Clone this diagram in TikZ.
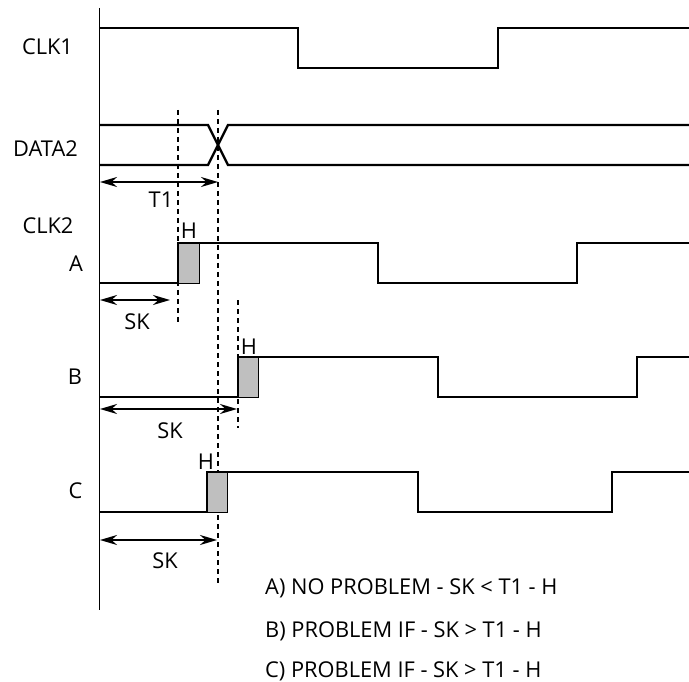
\documentclass[tikz,border=0pt]{standalone}
\usepackage{fontspec}
\setmainfont{Open Sans}
\usepackage{tikz}
\usetikzlibrary{arrows.meta, positioning, calc}

\begin{document}
\begin{tikzpicture}[
    x=1pt, y=-1pt,
    sig/.style={line width=2.4pt},
    guide/.style={dashed, line width=1.8pt, dash pattern=on 5pt off 4pt},
    hold/.style={draw, line width=0.7pt, fill=black!25},
    lbl/.style={font=\fontsize{21.8}{24}\selectfont, inner sep=0pt},
    note/.style={font=\fontsize{21.8}{24}\selectfont, inner sep=0pt, anchor=west},
    dim/.style={{Stealth[length=17pt,width=10pt]}-{Stealth[length=17pt,width=10pt]}, line width=2pt}
]
    \useasboundingbox (0,0) rectangle (689,682);

    % time axis
    \draw[line width=0.9pt] (99,8) -- (99,610);

    % labels
    \node[lbl] (clk1) at (47.5,47) {CLK1};
    \node[lbl] (data2) at (45.5,149) {DATA2};
    \node[lbl] (clk2) at (48,226) {CLK2};
    \node[lbl] (a) at (76,264) {A};
    \node[lbl] (b) at (75,377) {B};
    \node[lbl] (c) at (75.5,491) {C};

    % CLK1
    \draw[sig] (99,28) -- (298,28) -- (298,68) -- (498,68) -- (498,28) -- (689,28);

    % DATA2
    \draw[sig] (99,125) -- (208,125) -- (228,165) -- (689,165);
    \draw[sig] (99,165) -- (208,165) -- (228,125) -- (689,125);

    % guides
    \coordinate (g1top) at (178,110);
    \coordinate (g1bot) at (178,322);
    \coordinate (g2top) at (218,110);
    \coordinate (g2bot) at (218,586);
    \coordinate (g3top) at (238,300);
    \coordinate (g3bot) at (238,428);
    \draw[guide] (g1top) -- (g1bot);
    \draw[guide] (g2top) -- (g2bot);
    \draw[guide] (g3top) -- (g3bot);

    % T1
    \coordinate (t1s) at (100,182);
    \coordinate (t1e) at (218,182);
    \draw[dim] (t1s) -- (t1e);
    \node[lbl] (t1) at (161,200) {T1};

    % A
    \draw[hold] (178,243) rectangle (199,283);
    \draw[sig] (99,283) -- (178,283) -- (178,243) -- (378,243) -- (378,283) -- (577,283) -- (577,243) -- (689,243);
    \node[lbl] (ha) at (189,231) {H};
    \coordinate (ska) at (100,300);
    \coordinate (skae) at (170,300);
    \draw[dim] (ska) -- (skae);
    \node[lbl] (ska lbl) at (137,322) {SK};

    % B
    \draw[hold] (238,357) rectangle (258,397);
    \draw[sig] (99,397) -- (238,397) -- (238,357) -- (438,357) -- (438,397) -- (637,397) -- (637,357) -- (689,357);
    \node[lbl] (hb) at (249,347) {H};
    \coordinate (skb) at (100,409);
    \coordinate (skbe) at (237,409);
    \draw[dim] (skb) -- (skbe);
    \node[lbl] (skb lbl) at (170,431) {SK};

    % C
    \draw[hold] (207,472) rectangle (227,512);
    \draw[sig] (99,512) -- (207,512) -- (207,472) -- (418,472) -- (418,512) -- (612,512) -- (612,472) -- (689,472);
    \node[lbl] (hc) at (206,462) {H};
    \coordinate (skc) at (100,540);
    \coordinate (skce) at (217,540);
    \draw[dim] (skc) -- (skce);
    \node[lbl] (skc lbl) at (165,561) {SK};

    % notes
    \node[note] (na) at (265,588) {A) NO PROBLEM - SK < T1 - H};
    \node[note] (nb) at (265,631) {B) PROBLEM IF - SK > T1 - H};
    \node[note] (nc) at (265,671) {C) PROBLEM IF - SK > T1 - H};
\end{tikzpicture}
\end{document}
